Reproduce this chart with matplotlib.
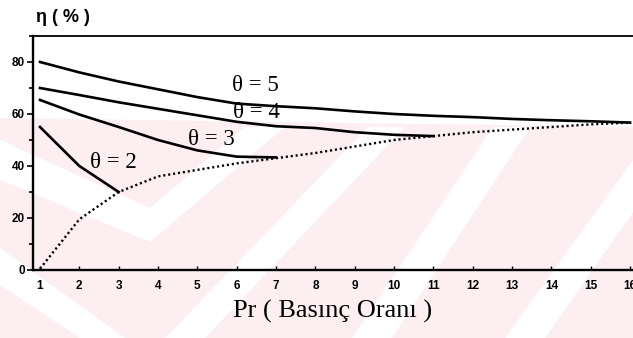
import matplotlib
matplotlib.use("Agg")
import matplotlib.pyplot as plt
from matplotlib.patches import Polygon
from matplotlib.ticker import MultipleLocator

# efficiency curves, eta (%) vs pressure ratio Pr
pr_t5 = [1, 2, 3, 4, 5, 6, 7, 8, 9, 10, 11, 12, 13, 14, 15, 16]
eta_t5 = [80, 76, 72.5, 69.5, 66.5, 64, 63, 62.2, 61, 60, 59.3, 58.8, 58.1, 57.6, 57.2, 56.7]

pr_t4 = [1, 2, 3, 4, 5, 6, 7, 8, 9, 10, 11]
eta_t4 = [70, 67.3, 64.5, 62, 59.5, 57, 55.3, 54.6, 53, 52, 51.5]

pr_t3 = [1, 2, 3, 4, 5, 6, 7]
eta_t3 = [65.4, 59.8, 55, 50, 46, 43.6, 43.3]

pr_t2 = [1, 2, 3]
eta_t2 = [55, 40, 30]

# dotted envelope (max efficiency points)
pr_env = [1, 2, 3, 4, 5, 6, 7, 8, 9, 10, 11, 12, 13, 14, 15, 16]
eta_env = [0.5, 19.5, 30, 36, 38.5, 41, 43, 45, 47.5, 50, 51.5, 53, 54, 55, 56, 56.7]

labels = ["θ = 5", "θ = 4", "θ = 3", "θ = 2"]
label_pos = [(5.88, 70.8), (5.9, 60.4), (4.76, 50.3), (2.27, 41.2)]

W, H = 633, 338
fig = plt.figure(figsize=(W / 100, H / 100), dpi=100)

# faint pink watermark in the scanned page
pink = "#fdeef1"
def px(pts):
    return [(x / W, 1 - y / H) for x, y in pts]

fig.add_artist(Polygon(px([(0, 118), (633, 127), (633, 338), (0, 338)]),
                       closed=True, transform=fig.transFigure, facecolor=pink,
                       edgecolor="none", zorder=0))
white_bands = [
    [(0, 140), (150, 208), (245, 127), (285, 127), (150, 242), (0, 180)],
    [(0, 248), (0, 285), (80, 338), (125, 338)],
    [(165, 338), (205, 338), (405, 127), (368, 127)],
    [(352, 338), (392, 338), (530, 127), (493, 127)],
    [(505, 338), (545, 338), (633, 212), (633, 160)],
]
for band in white_bands:
    fig.add_artist(Polygon(px(band), closed=True, transform=fig.transFigure,
                           facecolor="white", edgecolor="none", zorder=0))

ax = fig.add_axes([33 / W, (H - 270) / H, (636 - 33) / W, (270 - 36) / H])
ax.set_facecolor("none")

ax.plot(pr_t5, eta_t5, color="black", lw=1.9, solid_joinstyle="round")
ax.plot(pr_t4, eta_t4, color="black", lw=1.9, solid_joinstyle="round")
ax.plot(pr_t3, eta_t3, color="black", lw=1.9, solid_joinstyle="round")
ax.plot(pr_t2, eta_t2, color="black", lw=1.9, solid_joinstyle="round")
ax.plot(pr_env, eta_env, color="black", lw=1.7, linestyle=(0, (0.9, 1.2)))

for txt, (x, y) in zip(labels, label_pos):
    ax.text(x, y, txt, fontsize=16.5, family="Liberation Serif",
            ha="left", va="center")

ax.set_xlim(0.822, 16.15)
ax.set_ylim(0, 90)
ax.set_xticks(range(1, 17))
ax.yaxis.set_major_locator(MultipleLocator(20))
ax.yaxis.set_minor_locator(MultipleLocator(10))

for side in ["left", "bottom"]:
    ax.spines[side].set_linewidth(1.7)
ax.spines["top"].set_linewidth(1.3)
ax.spines["right"].set_linewidth(1.3)

ax.tick_params(axis="x", direction="in", length=3, width=1, pad=7)
ax.tick_params(axis="y", which="major", direction="out", length=4, width=1.2, pad=2)
ax.tick_params(axis="y", which="minor", direction="out", length=3, width=1.2)
for lab in ax.get_xticklabels() + ax.get_yticklabels():
    lab.set_family(["Liberation Sans Narrow", "Liberation Sans"])
    lab.set_fontweight("bold")
    lab.set_fontsize(8.5)

fig.text(36 / W, 1 - 17 / H, "η ( % )", fontsize=13, fontweight="bold",
         family="Liberation Sans", ha="left", va="center")
fig.text(333 / W, 1 - 311 / H, "Pr ( Basınç Oranı )", fontsize=19,
         family="Liberation Serif", ha="center", va="center")

fig.savefig("out.png", dpi=100)
